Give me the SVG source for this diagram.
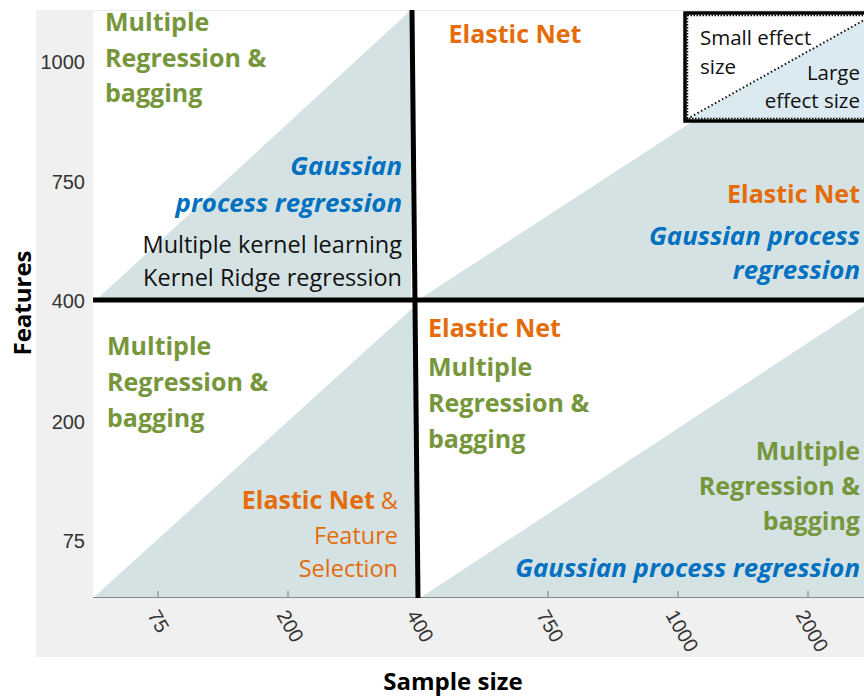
<svg xmlns="http://www.w3.org/2000/svg" width="864" height="696" viewBox="0 0 864 696">
<style>
  .b { font-family: "Open Sans", "Liberation Sans", sans-serif; font-weight: 700; font-size: 25px; }
  .bi { font-family: "Open Sans", "Liberation Sans", sans-serif; font-weight: 700; font-style: italic; font-size: 25.8px; fill: #0070c0; }
  .r { font-family: "Open Sans", "Liberation Sans", sans-serif; font-size: 23.5px; }
  .g { fill: #76963c; }
  .o { fill: #e46c0a; }
  .k { fill: #111; }
  .tick { font-family: "Liberation Sans", Arial, sans-serif; font-size: 20px; fill: #333; }
  .tri { fill: #d4e2e3; }
  .div { stroke: #000; stroke-width: 5; fill: none; }
  .ax { font-family: "Open Sans", "Liberation Sans", sans-serif; font-weight: 700; font-size: 24px; fill: #000; }
  .leg { font-family: "Open Sans", "Liberation Sans", sans-serif; font-size: 20.5px; fill: #111; }
</style>
<rect x="0" y="0" width="864" height="696" fill="#fff"/>
<rect x="36" y="10" width="828" height="647" fill="#f0f0f0"/>
<rect x="93" y="10" width="771" height="588" fill="#fff"/>
<line x1="93" y1="10.5" x2="864" y2="10.5" stroke="#eaeaea" stroke-width="1"/>

<g id="regions">
  <polygon class="tri" points="96,300 411,10 411,300"/>
  <polygon class="tri" points="418,300 864,10 864,300"/>
  <polygon class="tri" points="93,598 416,305 416,598"/>
  <polygon class="tri" points="420,598 864,306 864,598"/>
</g>

<g id="axes">
  <line x1="93" y1="597.5" x2="864" y2="597.5" stroke="#8a8a8a" stroke-width="1.2"/>
  <g stroke="#8a8a8a" stroke-width="1.2">
    <line x1="158" y1="591" x2="158" y2="597"/>
    <line x1="288" y1="591" x2="288" y2="597"/>
    <line x1="548" y1="591" x2="548" y2="597"/>
    <line x1="678" y1="591" x2="678" y2="597"/>
    <line x1="808" y1="591" x2="808" y2="597"/>
  </g>
  <g class="tick" text-anchor="end">
    <text x="85" y="69">1000</text>
    <text x="85" y="189">750</text>
    <text x="85" y="308">400</text>
    <text x="85" y="429">200</text>
    <text x="85" y="548">75</text>
  </g>
  <g class="tick">
    <text transform="translate(147,615) rotate(60)">75</text>
    <text transform="translate(276,615) rotate(60)">200</text>
    <text transform="translate(406,615) rotate(60)">400</text>
    <text transform="translate(536,615) rotate(60)">750</text>
    <text transform="translate(665,615) rotate(60)">1000</text>
    <text transform="translate(795,615) rotate(60)">2000</text>
  </g>
  <text class="ax" text-anchor="middle" transform="translate(31,303) rotate(-90)">Features</text>
  <text class="ax" x="453" y="690" text-anchor="middle">Sample size</text>
</g>

<g id="connectors">
  <line class="div" x1="93" y1="300" x2="864" y2="300"/>
  <line class="div" x1="412" y1="10" x2="418" y2="598"/>
</g>

<g id="node-top-left">
  <text class="b g" x="105" y="31">Multiple</text>
  <text class="b g" x="105" y="67">Regression &amp;</text>
  <text class="b g" x="105" y="102">bagging</text>
  <text class="bi" x="402" y="175" text-anchor="end">Gaussian</text>
  <text class="bi" x="402" y="212" text-anchor="end">process regression</text>
  <text class="r k" x="402" y="253" text-anchor="end">Multiple kernel learning</text>
  <text class="r k" x="402" y="286" text-anchor="end">Kernel Ridge regression</text>
</g>

<g id="node-top-right">
  <text class="b o" x="515" y="43" text-anchor="middle">Elastic Net</text>
  <text class="b o" x="860" y="203" text-anchor="end">Elastic Net</text>
  <text class="bi" x="860" y="245" text-anchor="end">Gaussian process</text>
  <text class="bi" x="860" y="279" text-anchor="end">regression</text>
</g>

<g id="node-bottom-left">
  <text class="b g" x="107" y="355">Multiple</text>
  <text class="b g" x="107" y="391">Regression &amp;</text>
  <text class="b g" x="107" y="427">bagging</text>
  <text x="398" y="509" text-anchor="end"><tspan class="b o">Elastic Net</tspan><tspan class="r o"> &amp;</tspan></text>
  <text class="r o" x="398" y="544" text-anchor="end">Feature</text>
  <text class="r o" x="398" y="577" text-anchor="end">Selection</text>
</g>

<g id="node-bottom-right">
  <text class="b o" x="428" y="337">Elastic Net</text>
  <text class="b g" x="428" y="376">Multiple</text>
  <text class="b g" x="428" y="412">Regression &amp;</text>
  <text class="b g" x="428" y="448">bagging</text>
  <text class="b g" x="860" y="460" text-anchor="end">Multiple</text>
  <text class="b g" x="860" y="495" text-anchor="end">Regression &amp;</text>
  <text class="b g" x="860" y="530" text-anchor="end">bagging</text>
  <text class="bi" x="860" y="577" text-anchor="end">Gaussian process regression</text>
</g>

<g id="legend">
  <rect x="685" y="13" width="190" height="108" fill="#fff"/>
  <polygon points="687,119 866,19 866,119" fill="#dbe9f1"/>
  <line x1="687" y1="119" x2="866" y2="19" stroke="#111" stroke-width="2" stroke-dasharray="1.5 2.5"/>
  <text class="leg" x="700" y="45">Small effect</text>
  <text class="leg" x="700" y="74">size</text>
  <text class="leg" x="860" y="80" text-anchor="end">Large</text>
  <text class="leg" x="860" y="108" text-anchor="end">effect size</text>
  <rect x="687.5" y="15.5" width="190" height="103" fill="none" stroke="#000" stroke-width="1.5" stroke-dasharray="1.5 1.5"/>
  <rect x="685" y="13" width="190" height="108" fill="none" stroke="#000" stroke-width="3.5"/>
</g>
</svg>
